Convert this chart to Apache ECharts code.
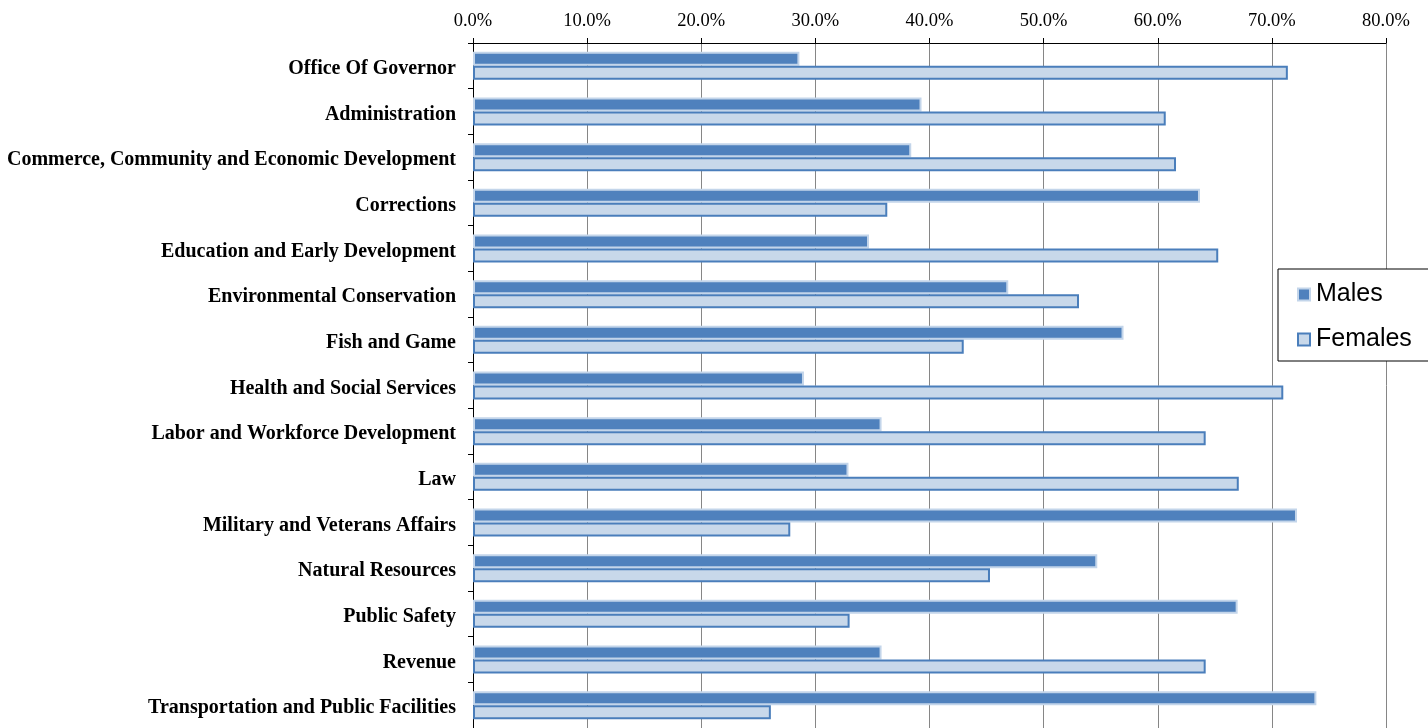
<!DOCTYPE html>
<html>
<head>
<meta charset="utf-8">
<script src="https://cdn.jsdelivr.net/npm/echarts@6/dist/echarts.min.js"></script>
<style>
html,body{margin:0;padding:0;background:#fff;}
#chart{width:1428px;height:728px;}
</style>
</head>
<body>
<div id="chart"></div>
<script>
const categories = [
  'Office Of Governor',
  'Administration',
  'Commerce, Community and Economic Development',
  'Corrections',
  'Education and Early Development',
  'Environmental Conservation',
  'Fish and Game',
  'Health and Social Services',
  'Labor and Workforce Development',
  'Law',
  'Military and Veterans Affairs',
  'Natural Resources',
  'Public Safety',
  'Revenue',
  'Transportation and Public Facilities'
];
const males   = [28.6, 39.3, 38.4, 63.7, 34.7, 46.9, 57.0, 29.0, 35.8, 32.9, 72.2, 54.7, 67.0, 35.8, 73.9];
const females = [71.4, 60.7, 61.6, 36.3, 65.3, 53.1, 43.0, 71.0, 64.2, 67.1, 27.8, 45.3, 33.0, 64.2, 26.1];
const xTicks = { min: 0, max: 80, interval: 10 };

const chart = echarts.init(document.getElementById('chart'), null, {renderer: 'canvas'});
chart.setOption({
  backgroundColor: '#ffffff',
  animation: false,
  grid: { left: 473, right: 42, top: 43, bottom: 0, containLabel: false },
  legend: {
    orient: 'vertical',
    left: 1278,
    top: 269,
    padding: [13, 40, 9, 19],
    itemGap: 20,
    itemWidth: 12,
    itemHeight: 12,
    icon: 'rect',
    backgroundColor: '#ffffff',
    borderColor: '#000000',
    borderWidth: 1,
    textStyle: { fontFamily: 'Liberation Sans', fontSize: 25, color: '#000', padding: [0, 0, 0, 1] },
    data: ['Males', 'Females']
  },
  xAxis: {
    type: 'value',
    position: 'top',
    min: xTicks.min, max: xTicks.max, interval: xTicks.interval,
    axisLine: { show: true, lineStyle: { color: '#000', width: 1 } },
    axisTick: { show: true, inside: false, length: 5, lineStyle: { color: '#000' } },
    axisLabel: {
      margin: 12,
      fontFamily: 'Liberation Serif', fontSize: 18.5, color: '#000',
      formatter: v => v.toFixed(1) + '%'
    },
    splitLine: { show: true, lineStyle: { color: '#868686', width: 1 } }
  },
  yAxis: {
    type: 'category',
    inverse: true,
    data: categories,
    axisLine: { show: true, lineStyle: { color: '#000', width: 1 } },
    axisTick: { show: true, length: 5, lineStyle: { color: '#000' } },
    axisLabel: {
      margin: 17,
      verticalAlign: 'top',
      lineHeight: 6,
      fontFamily: 'Liberation Serif', fontSize: 20, fontWeight: 'bold', color: '#000'
    }
  },
  series: [
    {
      name: 'Males', type: 'bar', data: males,
      barWidth: 14, barGap: '0%',
      itemStyle: { color: '#4f81bd', borderColor: '#c3d5ea', borderWidth: 2 }
    },
    {
      name: 'Females', type: 'bar', data: females,
      barWidth: 14,
      itemStyle: { color: '#c8d8ea', borderColor: '#4a7ebb', borderWidth: 2 }
    }
  ]
});
</script>
</body>
</html>
